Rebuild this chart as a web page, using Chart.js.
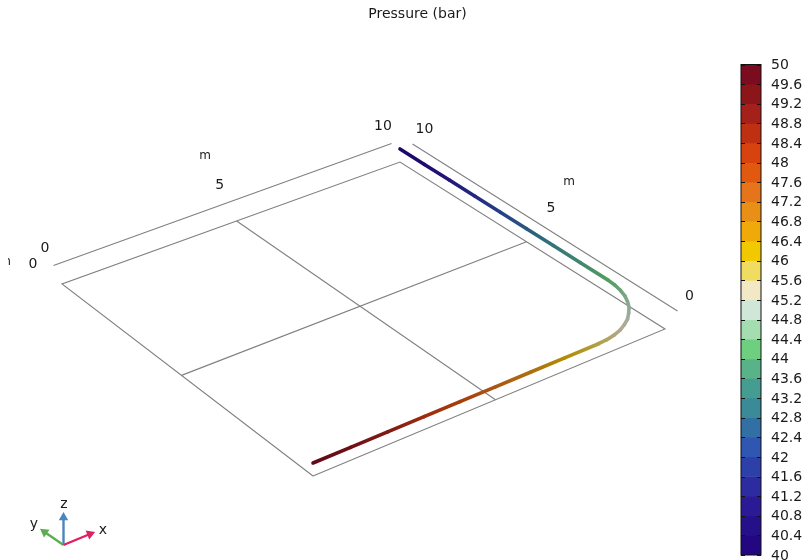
<!DOCTYPE html>
<html>
<head>
<meta charset="utf-8">
<title>Pressure (bar)</title>
<script src="https://cdn.jsdelivr.net/npm/chart.js@4"></script>
<style>
    html, body {margin: 0; padding: 0; background: #fff; overflow: hidden;}
    #page {position: relative; width: 805px; height: 560px; overflow: hidden;}
    #planeBox {position: absolute; left: 0; top: 0; width: 835px; height: 560px;}
    #barBox {position: absolute; left: 736px; top: 40px; width: 69px; height: 540px;}
</style>
</head>
<body>
<div id="page">
    <div id="planeBox"><canvas id="planeChart"></canvas></div>
    <div id="barBox"><canvas id="barChart"></canvas></div>
</div>
<script>
// pipe centre line in metres, with the pressure read at each point
var pipeX = [0, 1, 2, 3, 4, 5, 6, 7, 8, 8.26, 8.52, 8.77, 9, 9.22, 9.41, 9.59, 9.73, 9.85, 9.93, 9.98, 10, 10, 10, 10, 10, 10, 10, 10, 10];
var pipeY = [0, 0, 0, 0, 0, 0, 0, 0, 0, 0.02, 0.07, 0.15, 0.27, 0.41, 0.59, 0.78, 1, 1.23, 1.48, 1.74, 2, 3, 4, 5, 6, 7, 8, 9, 10];
var pipePressure = [50, 49.5, 49, 48.4, 47.9, 47.4, 46.9, 46.3, 45.8, 45.67, 45.55, 45.42, 45.3, 45.15, 45, 44.87, 44.73, 44.6, 44.45, 44.32, 44.2, 43.65, 43.15, 42.6, 42.1, 41.55, 41.05, 40.5, 40];

// colour bar, top band first
var barTicks = [50, 49.6, 49.2, 48.8, 48.4, 48, 47.6, 47.2, 46.8, 46.4, 46, 45.6, 45.2, 44.8, 44.4, 44, 43.6, 43.2, 42.8, 42.4, 42, 41.6, 41.2, 40.8, 40.4, 40];
var barColors = [
    "#7b0b1e", "#8c1519", "#a3211a", "#bf2f12", "#d8420f",
    "#e0590f", "#e6741a", "#e88f17", "#efaa0a", "#f2c900",
    "#efdc60", "#f2e8c6", "#d0e6d8", "#a4deb0", "#6ecf80",
    "#58b388", "#459d91", "#3b8a98", "#326fa5", "#2f56b0",
    "#2d3fa9", "#2c2ca0", "#2a1a95", "#26108a", "#220780"
];

var planeTicks = [0, 5, 10];
var gridLines = [5];

var FONT = "DejaVu Sans";
var PLANE_COLOR = "#808080";

// where the plane corners land in the view
var corners = {d: [313, 476], c: [665, 329], b: [400, 162], a: [62, 284]};
var PIPE_LIFT = -13;
var X_AXIS_SHIFT = [-8.5, -18.5];
var Y_AXIS_SHIFT = [12.5, -18];

function makeProjection(q) {
    var dx1 = q.c[0] - q.b[0], dx2 = q.a[0] - q.b[0], sx = q.d[0] - q.c[0] + q.b[0] - q.a[0];
    var dy1 = q.c[1] - q.b[1], dy2 = q.a[1] - q.b[1], sy = q.d[1] - q.c[1] + q.b[1] - q.a[1];
    var den = dx1 * dy2 - dx2 * dy1;
    var g = (sx * dy2 - dx2 * sy) / den;
    var h = (dx1 * sy - sx * dy1) / den;
    var a = q.c[0] - q.d[0] + g * q.c[0], b = q.a[0] - q.d[0] + h * q.a[0];
    var d = q.c[1] - q.d[1] + g * q.c[1], e = q.a[1] - q.d[1] + h * q.a[1];
    return function (mx, my, shift) {
        var u = mx / 10, v = my / 10;
        var w = g * u + h * v + 1;
        var s = shift || [0, 0];
        return {x: (a * u + b * v + q.d[0]) / w + s[0], y: (d * u + e * v + q.d[1]) / w + s[1]};
    };
}
var project = makeProjection(corners);

function planeLine(points, shift) {
    return {
        type: "line",
        data: points.map(function (p) { return project(p[0], p[1], shift); }),
        borderColor: PLANE_COLOR,
        borderWidth: 1.1,
        pointRadius: 0,
        order: 5
    };
}

function hexToRgb(hex) {
    return [parseInt(hex.substr(1, 2), 16), parseInt(hex.substr(3, 2), 16), parseInt(hex.substr(5, 2), 16)];
}

// the pipe is shaded, the light colours lose more than the dark ones
function pressureColor(p) {
    var pos = (50 - p) / 0.4 - 0.5;
    pos = Math.max(0, Math.min(barColors.length - 1, pos));
    var i = Math.floor(pos);
    var j = Math.min(barColors.length - 1, i + 1);
    var c0 = hexToRgb(barColors[i]), c1 = hexToRgb(barColors[j]);
    var t = pos - i;
    var rgb = [0, 1, 2].map(function (k) { return c0[k] + (c1[k] - c0[k]) * t; });
    var shade = 0.92 - 0.2 * Math.max(rgb[0], rgb[1], rgb[2]) / 255;
    return "rgb(" + rgb.map(function (v) { return Math.round(v * shade); }).join(",") + ")";
}

function pipeSegment(i) {
    var p0 = project(pipeX[i], pipeY[i], [0, PIPE_LIFT]);
    var p1 = project(pipeX[i + 1], pipeY[i + 1], [0, PIPE_LIFT]);
    return {
        type: "line",
        data: [p0, p1],
        borderWidth: 3.6,
        borderCapStyle: "round",
        pointRadius: 0,
        order: 1,
        // view units are canvas pixels here, the scales are not laid out yet when this runs
        borderColor: function (ctx) {
            var grad = ctx.chart.ctx.createLinearGradient(p0.x, p0.y, p1.x, p1.y);
            grad.addColorStop(0, pressureColor(pipePressure[i]));
            grad.addColorStop(1, pressureColor(pipePressure[i + 1]));
            return grad;
        }
    };
}

function triadArrow(tip, color, rotation) {
    return {
        type: "line",
        data: [{x: 63.5, y: 545}, tip],
        borderColor: color,
        borderWidth: 2.4,
        pointRadius: [0, 5.5],
        pointStyle: "triangle",
        pointRotation: rotation,
        pointBackgroundColor: color,
        pointBorderWidth: 0,
        order: 2
    };
}

var planeSets = [];
planeSets.push(planeLine([[0, 0], [10, 0], [10, 10], [0, 10], [0, 0]]));
gridLines.forEach(function (g) {
    planeSets.push(planeLine([[g, 0], [g, 10]]));
    planeSets.push(planeLine([[0, g], [10, g]]));
});
planeSets.push(planeLine([[0, 10], [10, 10]], X_AXIS_SHIFT));
planeSets.push(planeLine([[10, 0], [10, 10]], Y_AXIS_SHIFT));
for (var n = 0; n < pipeX.length - 1; n++) {
    planeSets.push(pipeSegment(n));
}
planeSets.push(triadArrow({x: 90, y: 534}, "#e0215f", 68));
planeSets.push(triadArrow({x: 44.5, y: 532}, "#5aae50", -55));
planeSets.push(triadArrow({x: 63.5, y: 517.5}, "#4b85bd", 0));

var planeLabels = {
    id: "planeLabels",
    afterDatasetsDraw: function (chart) {
        var c = chart.ctx, sx = chart.scales.x, sy = chart.scales.y;
        function put(text, x, y) {
            c.fillText(text, sx.getPixelForValue(x), sy.getPixelForValue(y));
        }
        c.save();
        c.fillStyle = "#1a1a1a";
        c.textAlign = "center";
        c.textBaseline = "middle";
        c.font = "14px '" + FONT + "'";
        planeTicks.forEach(function (t) {
            var p = project(t, 10, [X_AXIS_SHIFT[0] * 2, X_AXIS_SHIFT[1] * 2 + 1]);
            put(String(t), p.x, p.y);
            var r = project(10, t, [Y_AXIS_SHIFT[0] * 2 - 0.5, Y_AXIS_SHIFT[1] * 2 + 3]);
            put(String(t), r.x, r.y);
        });
        put("0", 33, 264);
        put("z", 64, 504);
        put("y", 34, 524);
        put("x", 103, 530);
        c.font = "12px '" + FONT + "'";
        put("m", 205, 156);
        put("m", 569, 182);
        // axis name cut off at the left margin of the graphics
        c.beginPath();
        c.rect(8, 250, 10, 20);
        c.clip();
        put("m", 5, 262);
        c.restore();
    }
};

new Chart(document.getElementById("planeChart"), {
    type: "line",
    data: {datasets: planeSets},
    plugins: [planeLabels],
    options: {
        responsive: true,
        maintainAspectRatio: false,
        animation: false,
        events: [],
        layout: {padding: 0, autoPadding: false},
        scales: {
            x: {type: "linear", display: false, min: 0, max: 835},
            y: {type: "linear", display: false, min: 30, max: 560, reverse: true}
        },
        plugins: {
            legend: {display: false},
            tooltip: {enabled: false},
            title: {
                display: true,
                text: "Pressure (bar)",
                color: "#1a1a1a",
                font: {family: FONT, size: 14, weight: "normal", lineHeight: "16px"},
                padding: {top: 6, bottom: 8}
            }
        }
    }
});

var barSets = barColors.map(function (color, i) {
    return {
        data: [[barTicks[i + 1], barTicks[i]]],
        backgroundColor: color,
        borderWidth: 0,
        barPercentage: 1,
        categoryPercentage: 1
    };
});

// black frame around the bar and short ticks on both of its sides
var barFrame = {
    id: "barFrame",
    afterDatasetsDraw: function (chart) {
        var c = chart.ctx, area = chart.chartArea, sy = chart.scales.y;
        c.save();
        c.strokeStyle = "#111";
        c.lineWidth = 1;
        c.strokeRect(area.left, area.top, area.right - area.left, area.bottom - area.top);
        c.beginPath();
        barTicks.forEach(function (t) {
            var py = Math.round(sy.getPixelForValue(t)) + 0.5;
            c.moveTo(area.left, py);
            c.lineTo(area.left + 4, py);
            c.moveTo(area.right - 4, py);
            c.lineTo(area.right, py);
        });
        c.stroke();
        c.restore();
    }
};

new Chart(document.getElementById("barChart"), {
    type: "bar",
    data: {labels: ["Pressure"], datasets: barSets},
    plugins: [barFrame],
    options: {
        responsive: true,
        maintainAspectRatio: false,
        animation: false,
        events: [],
        layout: {padding: {left: 5, right: 0, top: 24.5, bottom: 25}},
        scales: {
            x: {stacked: true, display: false},
            y: {
                type: "linear",
                position: "right",
                min: 40,
                max: 50,
                grid: {display: false, drawTicks: false},
                border: {display: false},
                afterFit: function (scale) { scale.width = 44; },
                ticks: {
                    stepSize: 0.4,
                    autoSkip: false,
                    padding: 10,
                    labelOffset: 1,
                    color: "#1a1a1a",
                    font: {family: FONT, size: 14},
                    callback: function (value) { return String(+value.toFixed(1)); }
                }
            }
        },
        plugins: {
            legend: {display: false},
            tooltip: {enabled: false},
            title: {display: false}
        }
    }
});
</script>
</body>
</html>
